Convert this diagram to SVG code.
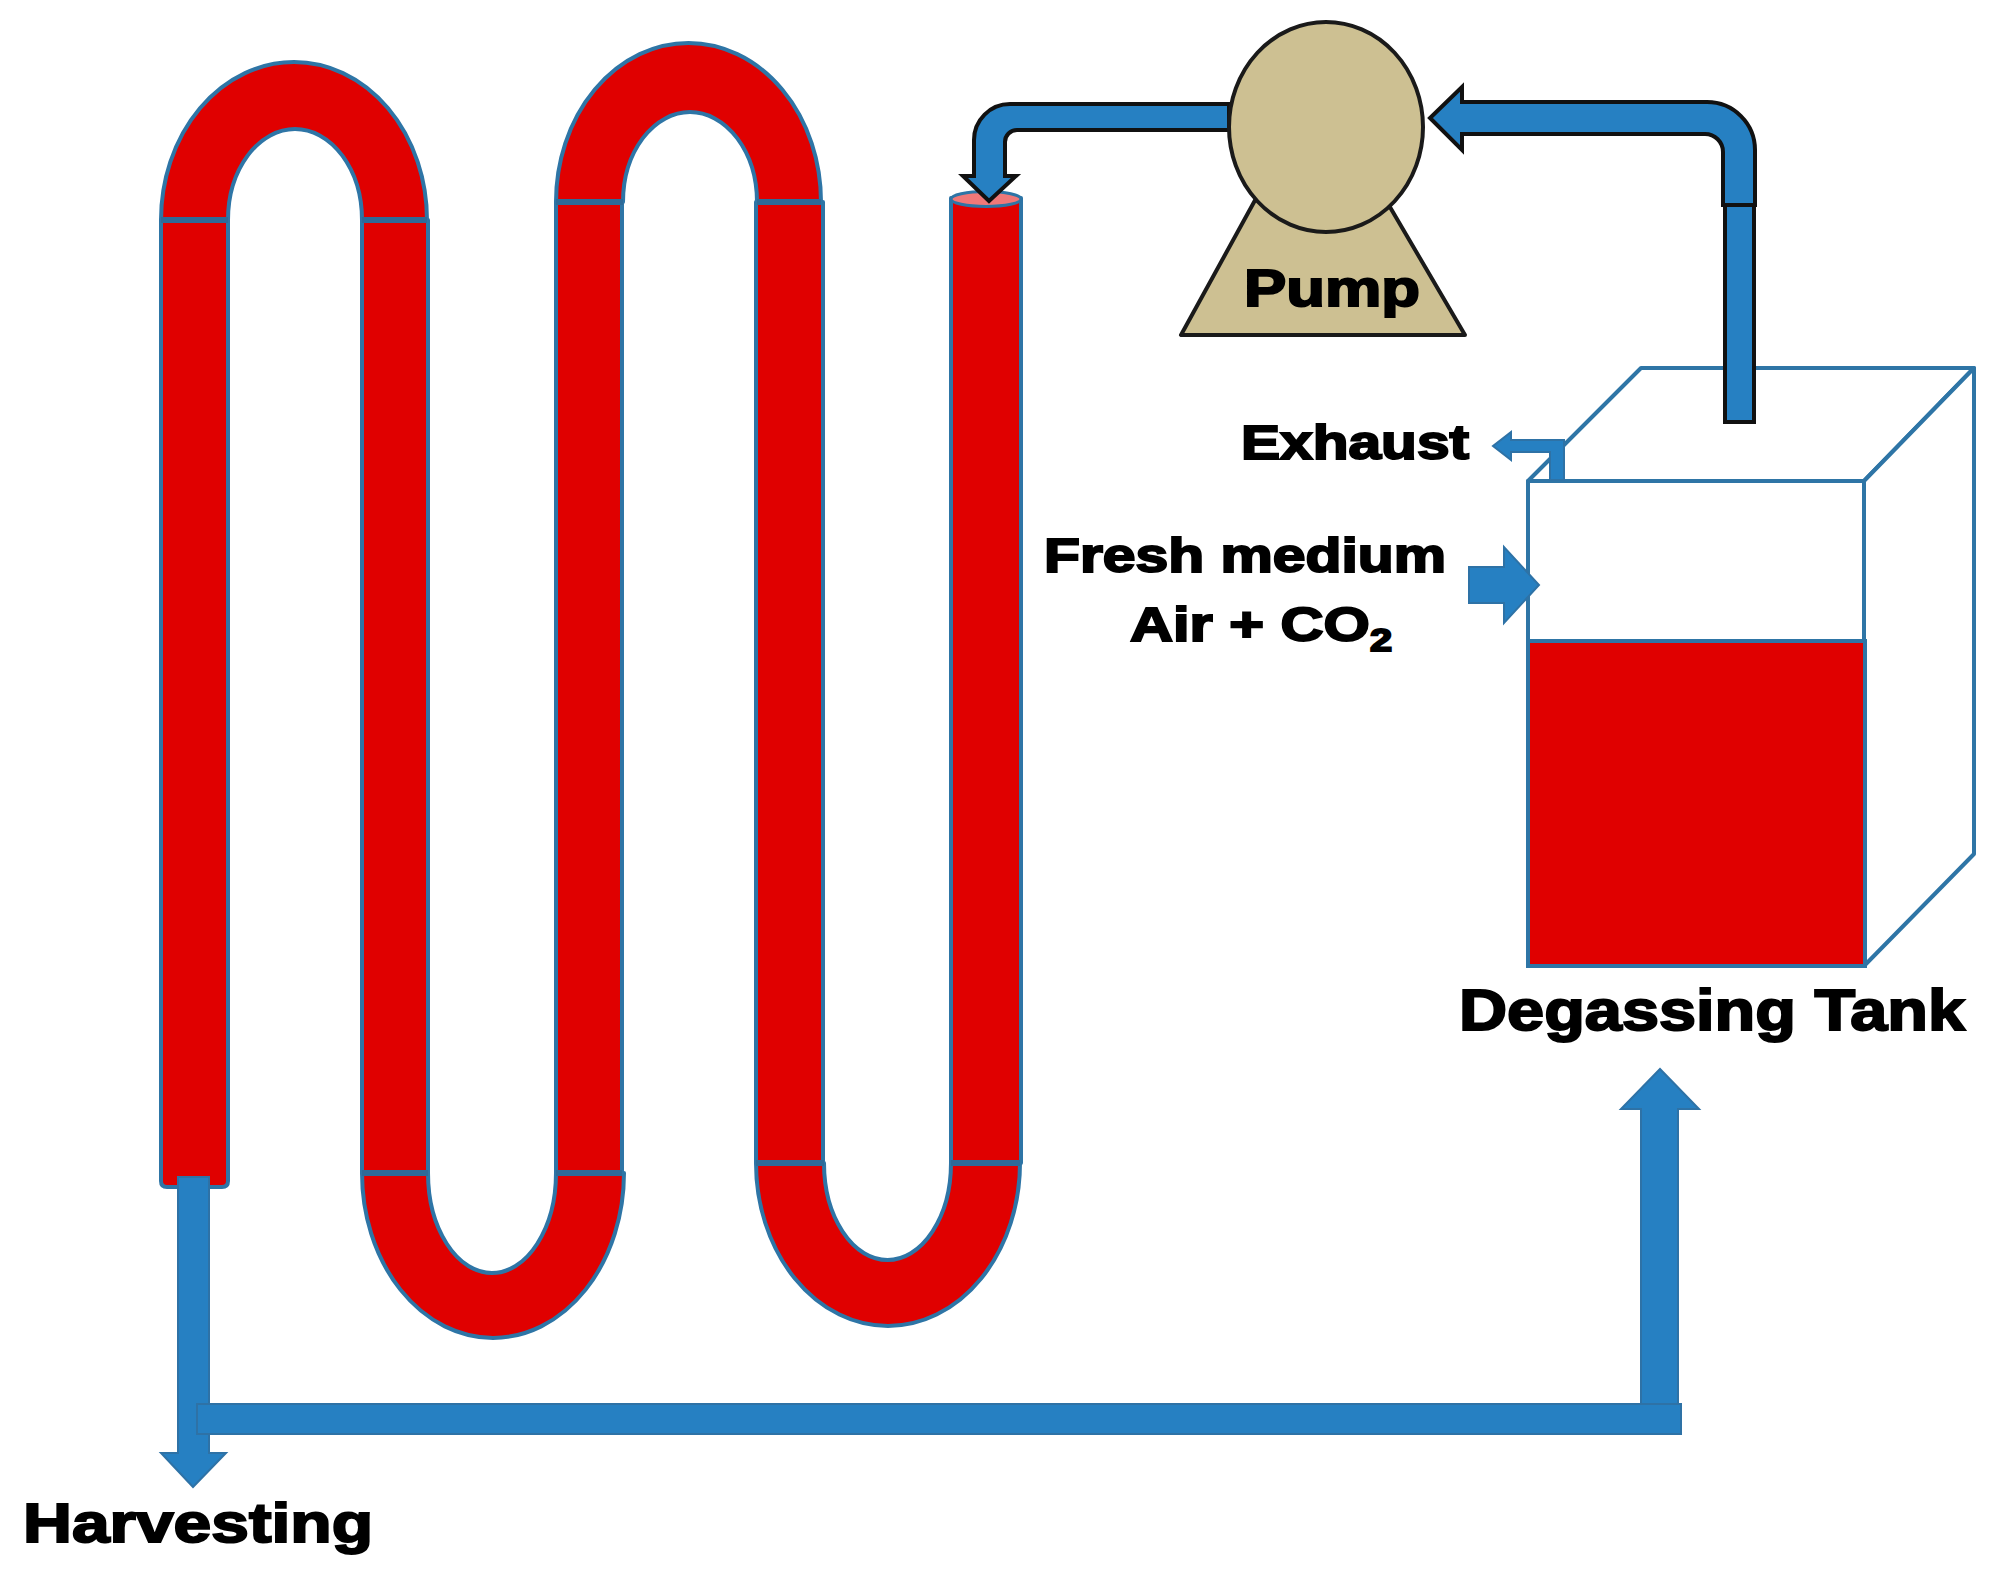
<svg xmlns="http://www.w3.org/2000/svg" width="2001" height="1578" viewBox="0 0 2001 1578">
<style>
.tube{fill:#e00000;stroke:#2e75a6;stroke-width:4;stroke-linejoin:round}
.seam{fill:none;stroke:#2e6a98;stroke-width:6}
.tank{fill:#fff;stroke:#2e75a6;stroke-width:4;stroke-linejoin:round}
.flow{fill:#2680c2;stroke:#2e72a6;stroke-width:2;stroke-linejoin:miter}
.pipe{fill:#2680c2;stroke:#111;stroke-width:4;stroke-linejoin:miter}
.pump{fill:#cdc092;stroke:#1a1a1a;stroke-width:4;stroke-linejoin:round}
.lbl{font-family:"Liberation Sans",Arial,sans-serif;font-weight:700;fill:#000;stroke:#000;stroke-width:2}
</style>
<rect width="2001" height="1578" fill="#fff"/>
<g id="photobioreactor">
<g id="tube-leg-1"><path class="tube" d="M161 220H228V1181Q228 1187 222 1187H167Q161 1187 161 1181Z"/></g>
<g id="tube-leg-2"><rect class="tube" x="362" y="220" width="66" height="953"/></g>
<g id="tube-leg-3"><rect class="tube" x="556" y="202" width="66" height="971"/></g>
<g id="tube-leg-4"><rect class="tube" x="756" y="202" width="67" height="961"/></g>
<g id="tube-leg-5"><rect class="tube" x="951" y="198" width="70" height="965"/><ellipse cx="986" cy="199" rx="35" ry="7.500" fill="#f07878" stroke="#2e75a6" stroke-width="3"/></g>
<g id="bend-top-1"><path class="tube" d="M161 220A133 158 0 0 1 427 220H362A67 91 0 0 0 228 220Z"/></g>
<g id="bend-top-2"><path class="tube" d="M556 202A132.500 159 0 0 1 821 202H757A67 90 0 0 0 623 202Z"/></g>
<g id="bend-bottom-1"><path class="tube" d="M362 1173A131 165 0 0 0 624 1173H556A64 100 0 0 1 428 1173Z"/></g>
<g id="bend-bottom-2"><path class="tube" d="M756 1163A132 163 0 0 0 1020 1163H951A63.500 97 0 0 1 824 1163Z"/></g>
<path class="seam" d="M161 220H228M362 220H427M556 202H623M757 202H821M362 1173H428M556 1173H622M756 1163H824M951 1163H1020"/>
</g>
<g id="degassing-tank">
<path class="tank" d="M1528 481L1641 368H1974L1864 481Z"/>
<path class="tank" d="M1864 481L1974 368V854L1864 966Z"/>
<rect class="tank" x="1528" y="481" width="336" height="485"/>
<rect x="1528" y="641" width="337" height="325" fill="#e00000" stroke="#2e75a6" stroke-width="4"/>
<text class="lbl" x="1459" y="1030" font-size="58" textLength="506" lengthAdjust="spacingAndGlyphs">Degassing Tank</text>
</g>
<g id="connectors">
<path class="flow" d="M178 1177H209V1453H226L193 1487L161 1453H178Z"/>
<path class="flow" d="M1641 1406V1109H1621L1660 1069L1699 1109H1678V1406Z"/>
<path class="flow" d="M197 1404H1681V1434H197Z"/>
<path class="flow" d="M1469 567H1504V547L1539 585L1504 623V603H1469Z"/>
<path class="flow" d="M1564 480H1550V452H1511V460L1493 446L1511 432V440H1564Z"/>
<path class="pipe" d="M1229 104H1010A36 36 0 0 0 974 140V176H963L989 201L1016 176H1005V142A12 12 0 0 1 1017 130H1229Z"/>
<path class="pipe" d="M1723 205V152A18 18 0 0 0 1705 134H1462V150L1430 118L1462 87V102H1707A48 48 0 0 1 1755 150V205Z"/>
<rect class="pipe" x="1725" y="205" width="29" height="217"/>
</g>
<g id="pump">
<path class="pump" d="M1270 173L1181 335H1465L1370 173Z"/>
<ellipse class="pump" cx="1326" cy="127" rx="97" ry="105"/>
<text class="lbl" x="1244" y="306" font-size="52" textLength="176" lengthAdjust="spacingAndGlyphs">Pump</text>
</g>
<g id="label-exhaust"><text class="lbl" x="1241" y="459" font-size="48" textLength="228" lengthAdjust="spacingAndGlyphs">Exhaust</text></g>
<g id="label-fresh-medium"><text class="lbl" x="1044" y="572" font-size="48" textLength="402" lengthAdjust="spacingAndGlyphs">Fresh medium</text></g>
<g id="label-air-co2"><text class="lbl" x="1130" y="641" font-size="48" textLength="262" lengthAdjust="spacingAndGlyphs">Air + CO<tspan font-size="32" dy="10">2</tspan></text></g>
<g id="label-harvesting"><text class="lbl" x="23" y="1542" font-size="56" textLength="350" lengthAdjust="spacingAndGlyphs">Harvesting</text></g>
</svg>
